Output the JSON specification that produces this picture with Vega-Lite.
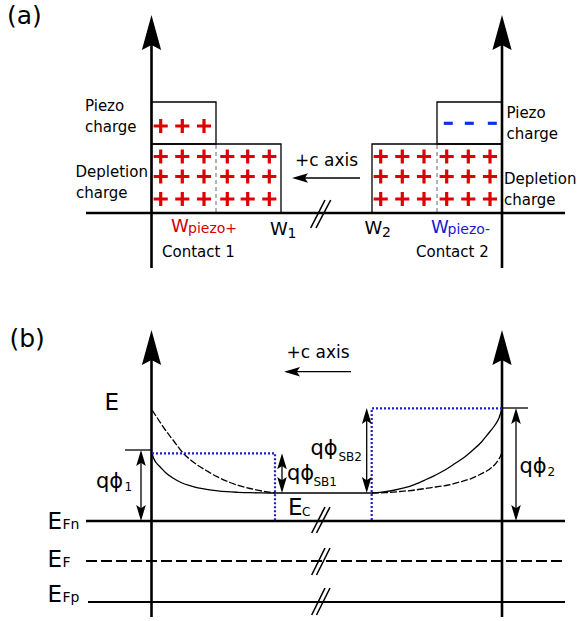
{
  "$schema": "https://vega.github.io/schema/vega-lite/v6.json",
  "width": 577,
  "height": 621,
  "padding": 0,
  "autosize": {"type": "none"},
  "config": {"view": {"stroke": null}, "font": "DejaVu Sans"},
  "datasets": {
    "segments": [
      {"kind": "heavy", "x": 151.5, "y": 30, "x2": 151.5, "y2": 268},
      {"kind": "heavy", "x": 502, "y": 30, "x2": 502, "y2": 268},
      {"kind": "heavy", "x": 151.5, "y": 345, "x2": 151.5, "y2": 617},
      {"kind": "heavy", "x": 502, "y": 345, "x2": 502, "y2": 617},
      {"kind": "heavy", "x": 86, "y": 213, "x2": 565, "y2": 213},
      {"kind": "heavy", "x": 86, "y": 521, "x2": 565, "y2": 521},
      {"kind": "thin", "x": 88, "y": 602, "x2": 565, "y2": 602},
      {"kind": "fermi", "x": 86, "y": 561, "x2": 565, "y2": 561},
      {"kind": "fine", "x": 125, "y": 450, "x2": 151.5, "y2": 450},
      {"kind": "fine", "x": 502, "y": 408, "x2": 528, "y2": 408},
      {"kind": "fine", "x": 141, "y": 460, "x2": 141, "y2": 511},
      {"kind": "fine", "x": 282, "y": 463, "x2": 282, "y2": 483},
      {"kind": "fine", "x": 366.7, "y": 418, "x2": 366.7, "y2": 483},
      {"kind": "fine", "x": 516, "y": 418, "x2": 516, "y2": 511},
      {"kind": "fine", "x": 360, "y": 178, "x2": 303, "y2": 178},
      {"kind": "fine", "x": 351, "y": 371.7, "x2": 296, "y2": 371.7},
      {"kind": "break", "x": 310.7, "y": 228, "x2": 325, "y2": 200},
      {"kind": "break", "x": 316, "y": 228, "x2": 330.7, "y2": 200},
      {"kind": "break", "x": 311.7, "y": 533, "x2": 325, "y2": 507},
      {"kind": "break", "x": 316.5, "y": 533, "x2": 330, "y2": 507},
      {"kind": "break", "x": 311.7, "y": 575, "x2": 325, "y2": 548},
      {"kind": "break", "x": 316.5, "y": 575, "x2": 330, "y2": 548},
      {"kind": "break", "x": 311.7, "y": 615, "x2": 325, "y2": 588},
      {"kind": "break", "x": 316.5, "y": 615, "x2": 330, "y2": 588},
      {"kind": "seam", "x": 216, "y": 145, "x2": 216, "y2": 212},
      {"kind": "seam", "x": 437, "y": 145, "x2": 437, "y2": 212}
    ],
    "boxes": [
      {"x": 151.5, "y": 102, "x2": 216, "y2": 144},
      {"x": 151.5, "y": 144, "x2": 281, "y2": 213},
      {"x": 437, "y": 102, "x2": 502, "y2": 144},
      {"x": 372, "y": 144, "x2": 502, "y2": 213}
    ],
    "bands": [
      {"id": "ec", "i": 0, "x": 152, "y": 453.5},
      {"id": "ec", "i": 1, "x": 153.5, "y": 458},
      {"id": "ec", "i": 2, "x": 156, "y": 462.5},
      {"id": "ec", "i": 3, "x": 160, "y": 466.7},
      {"id": "ec", "i": 4, "x": 166, "y": 473},
      {"id": "ec", "i": 5, "x": 173.3, "y": 478.3},
      {"id": "ec", "i": 6, "x": 181, "y": 482.5},
      {"id": "ec", "i": 7, "x": 190, "y": 485.7},
      {"id": "ec", "i": 8, "x": 198, "y": 487.8},
      {"id": "ec", "i": 9, "x": 206.7, "y": 489.3},
      {"id": "ec", "i": 10, "x": 216, "y": 490.6},
      {"id": "ec", "i": 11, "x": 226.7, "y": 491.7},
      {"id": "ec", "i": 12, "x": 238, "y": 492.3},
      {"id": "ec", "i": 13, "x": 250, "y": 492.7},
      {"id": "ec", "i": 14, "x": 262, "y": 492.9},
      {"id": "ec", "i": 15, "x": 273.3, "y": 493},
      {"id": "ec", "i": 16, "x": 372, "y": 493},
      {"id": "ec", "i": 17, "x": 385, "y": 491.7},
      {"id": "ec", "i": 18, "x": 395, "y": 490},
      {"id": "ec", "i": 19, "x": 405, "y": 487.7},
      {"id": "ec", "i": 20, "x": 415, "y": 484.3},
      {"id": "ec", "i": 21, "x": 425, "y": 480},
      {"id": "ec", "i": 22, "x": 435, "y": 475.3},
      {"id": "ec", "i": 23, "x": 445, "y": 470},
      {"id": "ec", "i": 24, "x": 455, "y": 463.5},
      {"id": "ec", "i": 25, "x": 465, "y": 456.7},
      {"id": "ec", "i": 26, "x": 473, "y": 450},
      {"id": "ec", "i": 27, "x": 481.7, "y": 441.7},
      {"id": "ec", "i": 28, "x": 488, "y": 434},
      {"id": "ec", "i": 29, "x": 495, "y": 425},
      {"id": "ec", "i": 30, "x": 499, "y": 418},
      {"id": "ec", "i": 31, "x": 501.7, "y": 409.5},
      {"id": "ecL", "i": 0, "x": 152, "y": 410},
      {"id": "ecL", "i": 1, "x": 158, "y": 419},
      {"id": "ecL", "i": 2, "x": 165, "y": 429.5},
      {"id": "ecL", "i": 3, "x": 173, "y": 440},
      {"id": "ecL", "i": 4, "x": 183, "y": 453},
      {"id": "ecL", "i": 5, "x": 190, "y": 459.5},
      {"id": "ecL", "i": 6, "x": 198, "y": 465.5},
      {"id": "ecL", "i": 7, "x": 207, "y": 471},
      {"id": "ecL", "i": 8, "x": 217, "y": 476.7},
      {"id": "ecL", "i": 9, "x": 230, "y": 482.5},
      {"id": "ecL", "i": 10, "x": 250, "y": 488.5},
      {"id": "ecL", "i": 11, "x": 262, "y": 491},
      {"id": "ecL", "i": 12, "x": 275, "y": 492.8},
      {"id": "ecR", "i": 0, "x": 372, "y": 493},
      {"id": "ecR", "i": 1, "x": 385, "y": 492.7},
      {"id": "ecR", "i": 2, "x": 400, "y": 491.5},
      {"id": "ecR", "i": 3, "x": 415, "y": 490},
      {"id": "ecR", "i": 4, "x": 430, "y": 487.8},
      {"id": "ecR", "i": 5, "x": 448.3, "y": 485},
      {"id": "ecR", "i": 6, "x": 460, "y": 482},
      {"id": "ecR", "i": 7, "x": 471.7, "y": 478.3},
      {"id": "ecR", "i": 8, "x": 480, "y": 474.5},
      {"id": "ecR", "i": 9, "x": 488.3, "y": 470},
      {"id": "ecR", "i": 10, "x": 494, "y": 465.5},
      {"id": "ecR", "i": 11, "x": 498.3, "y": 460},
      {"id": "ecR", "i": 12, "x": 501, "y": 455},
      {"id": "ecR", "i": 13, "x": 502, "y": 451.7},
      {"id": "sbL", "i": 0, "x": 152, "y": 453.3},
      {"id": "sbL", "i": 1, "x": 275, "y": 453.3},
      {"id": "sbL", "i": 2, "x": 275, "y": 521},
      {"id": "sbR", "i": 0, "x": 502, "y": 408.3},
      {"id": "sbR", "i": 1, "x": 371.7, "y": 408.3},
      {"id": "sbR", "i": 2, "x": 371.7, "y": 521}
    ],
    "charges": [
      {"sign": "+", "x": 160.7, "y": 126}, {"sign": "+", "x": 182.3, "y": 126}, {"sign": "+", "x": 204, "y": 126},
      {"sign": "+", "x": 160.7, "y": 156.5}, {"sign": "+", "x": 182.3, "y": 156.5}, {"sign": "+", "x": 204, "y": 156.5},
      {"sign": "+", "x": 227.3, "y": 156.5}, {"sign": "+", "x": 247.7, "y": 156.5}, {"sign": "+", "x": 269.3, "y": 156.5},
      {"sign": "+", "x": 160.7, "y": 176.5}, {"sign": "+", "x": 182.3, "y": 176.5}, {"sign": "+", "x": 204, "y": 176.5},
      {"sign": "+", "x": 227.3, "y": 176.5}, {"sign": "+", "x": 247.7, "y": 176.5}, {"sign": "+", "x": 269.3, "y": 176.5},
      {"sign": "+", "x": 160.7, "y": 199}, {"sign": "+", "x": 182.3, "y": 199}, {"sign": "+", "x": 204, "y": 199},
      {"sign": "+", "x": 227.3, "y": 199}, {"sign": "+", "x": 247.7, "y": 199}, {"sign": "+", "x": 269.3, "y": 199},
      {"sign": "+", "x": 380.7, "y": 156.5}, {"sign": "+", "x": 402.3, "y": 156.5}, {"sign": "+", "x": 424, "y": 156.5},
      {"sign": "+", "x": 446.7, "y": 156.5}, {"sign": "+", "x": 468.3, "y": 156.5}, {"sign": "+", "x": 490, "y": 156.5},
      {"sign": "+", "x": 380.7, "y": 176.5}, {"sign": "+", "x": 402.3, "y": 176.5}, {"sign": "+", "x": 424, "y": 176.5},
      {"sign": "+", "x": 446.7, "y": 176.5}, {"sign": "+", "x": 468.3, "y": 176.5}, {"sign": "+", "x": 490, "y": 176.5},
      {"sign": "+", "x": 380.7, "y": 199}, {"sign": "+", "x": 402.3, "y": 199}, {"sign": "+", "x": 424, "y": 199},
      {"sign": "+", "x": 446.7, "y": 199}, {"sign": "+", "x": 468.3, "y": 199}, {"sign": "+", "x": 490, "y": 199},
      {"sign": "-", "x": 448.3, "y": 123.3}, {"sign": "-", "x": 469.3, "y": 123.3}, {"sign": "-", "x": 492.3, "y": 123.3}
    ],
    "heads": [
      {"kind": "big", "dir": "up", "x": 151.5, "y": 15},
      {"kind": "big", "dir": "up", "x": 502, "y": 15},
      {"kind": "big", "dir": "up", "x": 151.5, "y": 330},
      {"kind": "big", "dir": "up", "x": 502, "y": 330},
      {"kind": "small", "dir": "up", "x": 141, "y": 450},
      {"kind": "small", "dir": "down", "x": 141, "y": 521},
      {"kind": "small", "dir": "up", "x": 282, "y": 453.3},
      {"kind": "small", "dir": "down", "x": 282, "y": 493},
      {"kind": "small", "dir": "up", "x": 366.7, "y": 408},
      {"kind": "small", "dir": "down", "x": 366.7, "y": 493},
      {"kind": "small", "dir": "up", "x": 516, "y": 408},
      {"kind": "small", "dir": "down", "x": 516, "y": 521},
      {"kind": "small", "dir": "left", "x": 292, "y": 178},
      {"kind": "small", "dir": "left", "x": 284, "y": 371.7}
    ],
    "labels": [
      {"style": "panel", "text": "(a)", "x": 7, "y": 24},
      {"style": "panel", "text": "(b)", "x": 9.5, "y": 347},
      {"style": "body", "text": "Piezo", "x": 85, "y": 111},
      {"style": "body", "text": "charge", "x": 85, "y": 132},
      {"style": "body", "text": "Depletion", "x": 75.5, "y": 177},
      {"style": "body", "text": "charge", "x": 76, "y": 198},
      {"style": "body", "text": "Piezo", "x": 506.5, "y": 118},
      {"style": "body", "text": "charge", "x": 506.5, "y": 139},
      {"style": "body", "text": "Depletion", "x": 504, "y": 184},
      {"style": "body", "text": "charge", "x": 504, "y": 205},
      {"style": "body", "text": "Contact 1", "x": 162, "y": 257},
      {"style": "body", "text": "Contact 2", "x": 416, "y": 257},
      {"style": "caxis", "text": "+c axis", "x": 295, "y": 166},
      {"style": "caxis", "text": "+c axis", "x": 286.5, "y": 358},
      {"style": "w", "tone": "red", "text": "W", "x": 171, "y": 232},
      {"style": "w", "tone": "black", "text": "W", "x": 270, "y": 234.5},
      {"style": "w", "tone": "black", "text": "W", "x": 364.5, "y": 233.5},
      {"style": "w", "tone": "blue", "text": "W", "x": 431, "y": 232.5},
      {"style": "sub", "tone": "red", "text": "piezo+", "x": 188, "y": 233},
      {"style": "sub", "tone": "black", "text": "1", "x": 287.5, "y": 238},
      {"style": "sub", "tone": "black", "text": "2", "x": 382, "y": 237},
      {"style": "sub", "tone": "blue", "text": "piezo-", "x": 447.5, "y": 233.5},
      {"style": "sub", "tone": "black", "text": "Fn", "x": 62.5, "y": 529},
      {"style": "sub", "tone": "black", "text": "F", "x": 62.5, "y": 566.5},
      {"style": "sub", "tone": "black", "text": "Fp", "x": 62.5, "y": 601.5},
      {"style": "e", "text": "E", "x": 104.5, "y": 409.5},
      {"style": "e", "text": "E", "x": 47.5, "y": 529},
      {"style": "e", "text": "E", "x": 47.5, "y": 566.5},
      {"style": "e", "text": "E", "x": 47.5, "y": 601.5},
      {"style": "e", "text": "E", "x": 288, "y": 514.5},
      {"style": "q", "text": "qϕ", "x": 96, "y": 488},
      {"style": "q", "text": "qϕ", "x": 287, "y": 480},
      {"style": "q", "text": "qϕ", "x": 310.5, "y": 455},
      {"style": "q", "text": "qϕ", "x": 519.5, "y": 473},
      {"style": "small", "text": "1", "x": 124.5, "y": 491},
      {"style": "small", "text": "SB1", "x": 313.5, "y": 485.5},
      {"style": "small", "text": "SB2", "x": 338.5, "y": 461},
      {"style": "small", "text": "2", "x": 547.5, "y": 476},
      {"style": "small", "text": "C", "x": 302, "y": 515.5}
    ]
  },
  "encoding": {
    "x": {"field": "x", "type": "quantitative", "axis": null, "scale": {"domain": [0, 577], "nice": false, "zero": false}},
    "y": {"field": "y", "type": "quantitative", "axis": null, "scale": {"domain": [621, 0], "nice": false, "zero": false}}
  },
  "layer": [
    {
      "data": {"name": "boxes"},
      "mark": {"type": "rect", "fill": "transparent", "stroke": "black", "strokeWidth": 1.3},
      "encoding": {"x2": {"field": "x2"}, "y2": {"field": "y2"}}
    },
    {
      "data": {"name": "segments"},
      "transform": [{"filter": "datum.kind === 'seam'"}],
      "mark": {"type": "rule", "color": "#555555", "strokeWidth": 0.9, "strokeDash": [4, 3]},
      "encoding": {"x2": {"field": "x2"}, "y2": {"field": "y2"}}
    },
    {
      "data": {"name": "segments"},
      "transform": [{"filter": "datum.kind === 'heavy'"}],
      "mark": {"type": "rule", "color": "black", "strokeWidth": 2.6},
      "encoding": {"x2": {"field": "x2"}, "y2": {"field": "y2"}}
    },
    {
      "data": {"name": "segments"},
      "transform": [{"filter": "datum.kind === 'thin'"}],
      "mark": {"type": "rule", "color": "black", "strokeWidth": 2},
      "encoding": {"x2": {"field": "x2"}, "y2": {"field": "y2"}}
    },
    {
      "data": {"name": "segments"},
      "transform": [{"filter": "datum.kind === 'fermi'"}],
      "mark": {"type": "rule", "color": "black", "strokeWidth": 2, "strokeDash": [11, 4]},
      "encoding": {"x2": {"field": "x2"}, "y2": {"field": "y2"}}
    },
    {
      "data": {"name": "segments"},
      "transform": [{"filter": "datum.kind === 'fine'"}],
      "mark": {"type": "rule", "color": "black", "strokeWidth": 1.3},
      "encoding": {"x2": {"field": "x2"}, "y2": {"field": "y2"}}
    },
    {
      "data": {"name": "segments"},
      "transform": [{"filter": "datum.kind === 'break'"}],
      "mark": {"type": "rule", "color": "black", "strokeWidth": 1.6},
      "encoding": {"x2": {"field": "x2"}, "y2": {"field": "y2"}}
    },
    {
      "data": {"name": "bands"},
      "transform": [{"filter": "datum.id === 'ec'"}],
      "mark": {"type": "line", "color": "black", "strokeWidth": 1.3, "interpolate": "monotone"},
      "encoding": {"order": {"field": "i"}}
    },
    {
      "data": {"name": "bands"},
      "transform": [{"filter": "datum.id === 'ecL' || datum.id === 'ecR'"}],
      "mark": {"type": "line", "color": "black", "strokeWidth": 1.3, "strokeDash": [7, 2], "interpolate": "monotone"},
      "encoding": {"detail": {"field": "id"}, "order": {"field": "i"}}
    },
    {
      "data": {"name": "bands"},
      "transform": [{"filter": "datum.id === 'sbL' || datum.id === 'sbR'"}],
      "mark": {"type": "line", "color": "#1c1cc8", "strokeWidth": 2.2, "strokeDash": [2, 2]},
      "encoding": {"detail": {"field": "id"}, "order": {"field": "i"}}
    },
    {
      "data": {"name": "charges"},
      "transform": [{"filter": "datum.sign === '+'"}],
      "mark": {"type": "point", "shape": "M-1,0L1,0M0,-1L0,1", "filled": false, "color": "#dd0000", "strokeWidth": 3.2, "size": 200, "opacity": 1}
    },
    {
      "data": {"name": "charges"},
      "transform": [{"filter": "datum.sign === '-'"}],
      "mark": {"type": "point", "shape": "M-1,0L1,0", "filled": false, "color": "#1030e8", "strokeWidth": 3.2, "size": 81, "opacity": 1}
    },
    {
      "data": {"name": "heads"},
      "transform": [{"filter": "datum.kind === 'big'"}],
      "mark": {"type": "point", "shape": "M0,0L0.55,2L0,1.72L-0.55,2Z", "filled": true, "color": "black", "size": 1225, "opacity": 1}
    },
    {
      "data": {"name": "heads"},
      "transform": [{"filter": "datum.kind === 'small' && datum.dir === 'up'"}],
      "mark": {"type": "point", "shape": "M0,0L0.6,2L0,1.6L-0.6,2Z", "filled": true, "color": "black", "size": 256, "opacity": 1, "angle": 0}
    },
    {
      "data": {"name": "heads"},
      "transform": [{"filter": "datum.kind === 'small' && datum.dir === 'down'"}],
      "mark": {"type": "point", "shape": "M0,0L0.6,2L0,1.6L-0.6,2Z", "filled": true, "color": "black", "size": 256, "opacity": 1, "angle": 180}
    },
    {
      "data": {"name": "heads"},
      "transform": [{"filter": "datum.kind === 'small' && datum.dir === 'left'"}],
      "mark": {"type": "point", "shape": "M0,0L0.6,2L0,1.6L-0.6,2Z", "filled": true, "color": "black", "size": 256, "opacity": 1, "angle": 270}
    },
    {
      "data": {"name": "labels"},
      "transform": [{"filter": "datum.style === 'panel'"}],
      "mark": {"type": "text", "align": "left", "baseline": "alphabetic", "fontSize": 25, "color": "black"},
      "encoding": {"text": {"field": "text"}}
    },
    {
      "data": {"name": "labels"},
      "transform": [{"filter": "datum.style === 'body'"}],
      "mark": {"type": "text", "align": "left", "baseline": "alphabetic", "fontSize": 15, "color": "black"},
      "encoding": {"text": {"field": "text"}}
    },
    {
      "data": {"name": "labels"},
      "transform": [{"filter": "datum.style === 'caxis'"}],
      "mark": {"type": "text", "align": "left", "baseline": "alphabetic", "fontSize": 17, "color": "black"},
      "encoding": {"text": {"field": "text"}}
    },
    {
      "data": {"name": "labels"},
      "transform": [{"filter": "datum.style === 'w'"}],
      "mark": {"type": "text", "align": "left", "baseline": "alphabetic", "fontSize": 18},
      "encoding": {
        "text": {"field": "text"},
        "color": {"condition": [{"test": "datum.tone === 'red'", "value": "#d40000"}, {"test": "datum.tone === 'blue'", "value": "#1a1ad0"}], "value": "black"}
      }
    },
    {
      "data": {"name": "labels"},
      "transform": [{"filter": "datum.style === 'sub'"}],
      "mark": {"type": "text", "align": "left", "baseline": "alphabetic", "fontSize": 14},
      "encoding": {
        "text": {"field": "text"},
        "color": {"condition": [{"test": "datum.tone === 'red'", "value": "#d40000"}, {"test": "datum.tone === 'blue'", "value": "#1a1ad0"}], "value": "black"}
      }
    },
    {
      "data": {"name": "labels"},
      "transform": [{"filter": "datum.style === 'e'"}],
      "mark": {"type": "text", "align": "left", "baseline": "alphabetic", "fontSize": 23, "color": "black"},
      "encoding": {"text": {"field": "text"}}
    },
    {
      "data": {"name": "labels"},
      "transform": [{"filter": "datum.style === 'q'"}],
      "mark": {"type": "text", "align": "left", "baseline": "alphabetic", "fontSize": 21, "color": "black"},
      "encoding": {"text": {"field": "text"}}
    },
    {
      "data": {"name": "labels"},
      "transform": [{"filter": "datum.style === 'small'"}],
      "mark": {"type": "text", "align": "left", "baseline": "alphabetic", "fontSize": 12, "color": "black"},
      "encoding": {"text": {"field": "text"}}
    }
  ]
}
